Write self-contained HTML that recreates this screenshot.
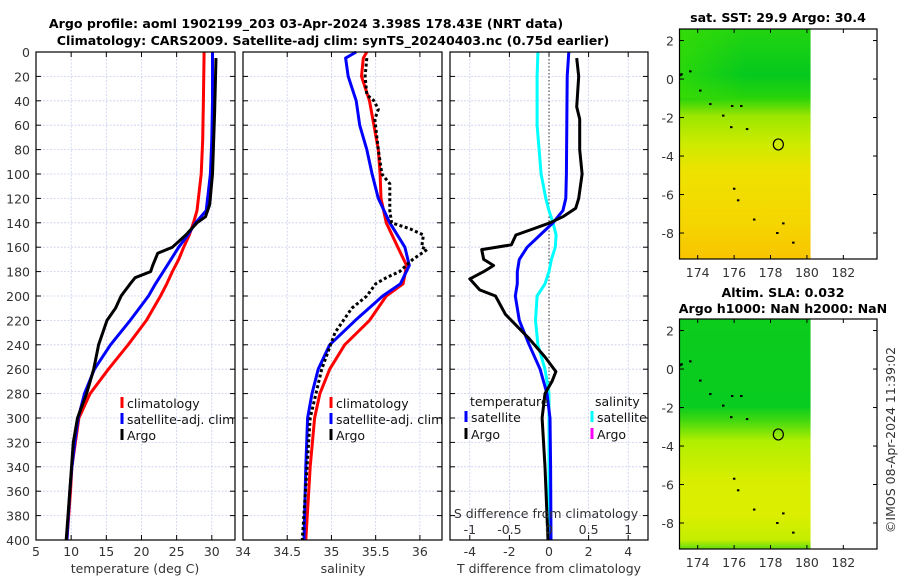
<!DOCTYPE html>
<html><head><meta charset="utf-8">
<style>
body{margin:0;background:#fff;}
svg{display:block;font-family:"DejaVu Sans","Liberation Sans",sans-serif;}
.tk{font-size:12.5px;fill:#333;}
.tt{font-size:12.6px;font-weight:bold;fill:#000;}
.lg{font-size:12.5px;fill:#111;}
</style></head>
<body>
<svg id="fig" width="900" height="580" viewBox="0 0 900 580" xmlns="http://www.w3.org/2000/svg">
<defs>
<linearGradient id="g1" x1="0" y1="0" x2="0" y2="1">
<stop offset="0" stop-color="#22d410"/><stop offset="0.2" stop-color="#05c91e"/>
<stop offset="0.3" stop-color="#28d40a"/><stop offset="0.38" stop-color="#9de600"/>
<stop offset="0.5" stop-color="#cdeb00"/><stop offset="0.62" stop-color="#eee200"/>
<stop offset="0.85" stop-color="#f5d500"/><stop offset="1" stop-color="#f8c400"/>
</linearGradient>
<linearGradient id="g1h" x1="0" y1="0" x2="1" y2="0">
<stop offset="0" stop-color="#40e000" stop-opacity="0.6"/><stop offset="0.5" stop-color="#40e000" stop-opacity="0"/>
</linearGradient>
<linearGradient id="g2" x1="0" y1="0" x2="0" y2="1">
<stop offset="0" stop-color="#0ccc1c"/><stop offset="0.38" stop-color="#08cc20"/>
<stop offset="0.44" stop-color="#40d810"/><stop offset="0.53" stop-color="#b0ee00"/>
<stop offset="0.7" stop-color="#d8ee00"/><stop offset="0.85" stop-color="#dcee00"/>
<stop offset="0.96" stop-color="#c4ee00"/><stop offset="1" stop-color="#60dc10"/>
</linearGradient>
</defs>
<g id="content"></g>
</svg>
<script>
// ---- data ----
const depthsTclim=[0,40,72,100,130,140,150,160,170,180,190,200,220,240,260,280,300,320,340,360,400];
const tempClim=[28.9,28.8,28.7,28.5,27.9,27.4,26.8,26.0,25.3,24.4,23.6,22.7,20.7,18.1,15.3,12.7,11.1,10.6,10.1,9.9,9.4];
const tempSat=[30.1,30.1,30.0,29.8,29.2,27.7,26.6,25.3,24.2,23.1,22.0,21.0,18.4,15.6,13.3,11.9,11.0,10.5,10.1,9.8,9.4];
const depthsArgo=[5,50,100,125,135,140,145,150,160,165,175,180,185,190,200,210,220,240,260,280,300,320,360,400];
const tempArgo=[30.6,30.4,30.1,29.7,29.1,27.9,27.1,26.3,24.4,22.3,21.6,21.3,19.1,18.4,17.1,16.3,15.1,13.9,13.2,12.2,10.9,10.3,9.8,9.3];
const depthsS=[0,5,20,40,60,80,100,120,140,160,175,190,200,220,240,260,280,300,340,400];
const salClim=[35.40,35.36,35.34,35.43,35.48,35.53,35.55,35.56,35.62,35.75,35.85,35.81,35.62,35.43,35.15,34.98,34.87,34.81,34.76,34.71];
const salSat=[35.28,35.16,35.19,35.28,35.32,35.40,35.46,35.53,35.66,35.83,35.88,35.78,35.58,35.27,34.98,34.85,34.78,34.73,34.71,34.69];
const depthsSA=[5,20,35,40,47,55,80,100,108,130,140,145,150,160,162,170,180,185,190,200,210,230,260,300,400];
const salArgo=[35.40,35.38,35.40,35.48,35.53,35.49,35.53,35.57,35.66,35.66,35.68,35.89,36.04,36.02,36.08,35.92,35.77,35.62,35.50,35.40,35.23,35.04,34.89,34.76,34.67];
const depthsD=[0,20,60,100,120,130,140,150,160,170,180,190,200,220,240,260,280,300,340,400];
const dTsat=[1.0,0.92,0.9,0.88,0.85,0.7,0.2,-0.45,-1.1,-1.5,-1.6,-1.6,-1.7,-1.5,-1.0,-0.45,-0.1,0.05,0.08,0.1];
const dSsat=[-0.14,-0.15,-0.15,-0.10,-0.04,0.0,0.05,0.09,0.08,0.03,0.0,-0.05,-0.15,-0.17,-0.14,-0.05,0.0,0.0,0.0,0.0];
const depthsDA=[5,20,45,55,80,100,120,128,135,140,145,150,158,162,170,175,180,186,195,200,215,235,250,262,270,280,300,340,400];
const dTargo=[1.4,1.5,1.4,1.55,1.55,1.67,1.5,1.35,0.7,0.05,-0.8,-1.67,-1.9,-3.4,-3.3,-2.8,-3.3,-4.0,-3.5,-2.7,-2.2,-1.0,-0.2,0.35,0.15,-0.2,-0.35,-0.2,-0.05];
const tempTicks=[5,10,15,20,25,30];
const salTicks=[34,34.5,35,35.5,36];
const salTickLabels=["34","34.5","35","35.5","36"];
const dTTicks=[-4,-2,0,2,4];
const dSTicks=[-1,-0.5,0,0.5,1];
const dSTickLabels=["-1","-0.5","0","0.5","1"];
const depthTicks=[0,20,40,60,80,100,120,140,160,180,200,220,240,260,280,300,320,340,360,380,400];
const lonTicks=[174,176,178,180,182];
const latTicks=[2,0,-2,-4,-6,-8];
const argoLon=178.43, argoLat=-3.398;
const islandLon=[173.03,173.1,173.58,174.13,174.68,175.39,175.88,176.38,175.83,176.7,175.99,176.21,177.09,178.69,178.36,179.24];
const islandLat=[0.2,0.25,0.4,-0.6,-1.3,-1.9,-1.4,-1.4,-2.5,-2.6,-5.7,-6.3,-7.3,-7.5,-8.0,-8.5];

const NS='http://www.w3.org/2000/svg';
const root=document.getElementById('content');
function mk(tag,attrs,parent){const e=document.createElementNS(NS,tag);for(const k in attrs)e.setAttribute(k,attrs[k]);(parent||root).appendChild(e);return e;}
function txt(x,y,s,cls,anchor,parent){const t=mk('text',{x:x,y:y,class:cls,'text-anchor':anchor||'middle'},parent);t.textContent=s;return t;}

const Y0=52,Y1=540;
const yD=d=>Y0+(d/400)*(Y1-Y0);
function lin(d0,d1,p0,p1){return v=>p0+(v-d0)/(d1-d0)*(p1-p0);}
const panels=[
 {name:'temperature-panel',x0:36,x1:235,sx:lin(5,33.3,36,235)},
 {name:'salinity-panel',x0:243,x1:442,sx:lin(34,36.25,243,442)},
 {name:'difference-panel',x0:450,x1:648,sx:lin(-5,5,450,648)}
];
const sxS=lin(-1.25,1.25,450,648);

function grid(p,ticks){
 const g=mk('g',{});
 
 
 depthTicks.forEach(d=>mk('line',{x1:p.x0,x2:p.x1,y1:yD(d),y2:yD(d),stroke:'#c9cfee','stroke-width':0.8,'stroke-dasharray':'2,1.5'},g));
 ticks.forEach(v=>{const x=p.sx(v);mk('line',{x1:x,x2:x,y1:Y0,y2:Y1,stroke:'#c9cfee','stroke-width':0.8,'stroke-dasharray':'2,1.5'},g);
   mk('line',{x1:x,x2:x,y1:Y1,y2:Y1-5,stroke:'#000'},g);mk('line',{x1:x,x2:x,y1:Y0,y2:Y0+5,stroke:'#000'},g);});
 depthTicks.forEach(d=>{mk('line',{x1:p.x0,x2:p.x0+5,y1:yD(d),y2:yD(d),stroke:'#000'},g);mk('line',{x1:p.x1,x2:p.x1-5,y1:yD(d),y2:yD(d),stroke:'#000'},g);});
}
function frame(p){const r=mk('rect',{x:p.x0,y:Y0,width:p.x1-p.x0,height:Y1-Y0,fill:'none',stroke:'#000','stroke-width':1.2});
 
 }
function line(depths,vals,sx,color,name,opts){
 const pts=depths.map((d,i)=>sx(vals[i]).toFixed(1)+','+yD(d).toFixed(1)).join(' ');
 const a={points:pts,fill:'none',stroke:color,'stroke-width':(opts&&opts.w)||3,'stroke-linejoin':'round'};
 if(opts&&opts.dash)a['stroke-dasharray']=opts.dash;
 const e=mk('polyline',a);
 
 
}
grid(panels[0],tempTicks);
line(depthsTclim,tempClim,panels[0].sx,'#f00','temp-climatology-line');
line(depthsTclim,tempSat,panels[0].sx,'#00f','temp-satellite-line');
line(depthsArgo,tempArgo,panels[0].sx,'#000','temp-argo-line');
grid(panels[1],salTicks);
line(depthsS,salClim,panels[1].sx,'#f00','sal-climatology-line');
line(depthsS,salSat,panels[1].sx,'#00f','sal-satellite-line');
line(depthsSA,salArgo,panels[1].sx,'#000','sal-argo-line',{dash:'3,2.5',w:3});
grid(panels[2],dTTicks);
mk('line',{x1:panels[2].sx(0),x2:panels[2].sx(0),y1:Y0,y2:Y1,stroke:'#333','stroke-dasharray':'1.5,2','stroke-width':1});
line(depthsD,dSsat,sxS,'#00ffff','sdiff-satellite-line');
line(depthsD,dTsat,panels[2].sx,'#00f','tdiff-satellite-line');
line(depthsDA,dTargo,panels[2].sx,'#000','tdiff-argo-line');
panels.forEach(frame);

depthTicks.forEach(d=>txt(30,yD(d)+5,String(d),'tk','end'));
tempTicks.forEach(v=>txt(panels[0].sx(v),556,String(v),'tk'));
salTicks.forEach((v,i)=>txt(panels[1].sx(v),556,salTickLabels[i],'tk'));
dTTicks.forEach(v=>txt(panels[2].sx(v),556,String(v),'tk'));
dSTicks.forEach((v,i)=>txt(sxS(v),534,dSTickLabels[i],'tk'));
txt(135,573,'temperature (deg C)','tk');
txt(343,573,'salinity','tk');
txt(549,573,'T difference from climatology','tk');
txt(546,518,'S difference from climatology','tk');
txt(306,28,'Argo profile: aoml 1902199_203 03-Apr-2024 3.398S 178.43E (NRT data)','tt');
txt(333,45,'Climatology: CARS2009. Satellite-adj clim: synTS_20240403.nc (0.75d earlier)','tt');

function leg(x,y,color,label){if(color)mk('line',{x1:x,x2:x,y1:y-11,y2:y,stroke:color,'stroke-width':3});txt(x+5,y,label,'lg','start');}
leg(122,408,'#f00','climatology');leg(122,424,'#00f','satellite-adj. clim');leg(122,440,'#000','Argo');
leg(331,408,'#f00','climatology');leg(331,424,'#00f','satellite-adj. clim');leg(331,440,'#000','Argo');
txt(470,406,'temperature','lg','start');leg(466,422,'#00f','satellite');leg(466,439,'#000','Argo');
txt(595,406,'salinity','lg','start');leg(592,422,'#00ffff','satellite');leg(592,439,'#ff00ff','Argo');

function map(top,bot,grad,title1,title2,name,hgrad){
 const lx=lin(173,183.85,679.5,877), ly=lin(2.6,-9.35,top,bot);
 const g=mk('g',{});
 
 
 const w=lx(180.2)-679.5;
 mk('rect',{x:679.5,y:top,width:w,height:bot-top,fill:'url(#'+grad+')'},g);
 if(hgrad)mk('rect',{x:679.5,y:top,width:w,height:(bot-top)*0.3,fill:'url(#'+hgrad+')'},g);
 mk('rect',{x:679.5,y:top,width:877-679.5,height:bot-top,fill:'none',stroke:'#000','stroke-width':1.2},g);
 lonTicks.forEach(v=>{const x=lx(v);mk('line',{x1:x,x2:x,y1:bot,y2:bot-4,stroke:'#000'},g);mk('line',{x1:x,x2:x,y1:top,y2:top+4,stroke:'#000'},g);txt(x,bot+18,String(v),'tk','middle',g);});
 latTicks.forEach(v=>{const y=ly(v);mk('line',{x1:679.5,x2:684,y1:y,y2:y,stroke:'#000'},g);mk('line',{x1:877,x2:873,y1:y,y2:y,stroke:'#000'},g);txt(674,y+5,String(v),'tk','end',g);});
 islandLon.forEach((lo,i)=>mk('rect',{x:lx(lo)-1,y:ly(islandLat[i])-1,width:2.5,height:2,fill:'#000'},g));
 const c=mk('ellipse',{cx:lx(argoLon),cy:ly(argoLat),rx:5,ry:5.5,fill:'none',stroke:'#000','stroke-width':1.2},g);
 
 
 if(title2){txt(783,top-22,title1,'tt','middle',g);txt(783,top-6,title2,'tt','middle',g);} else txt(778,top-7,title1,'tt','middle',g);
}
map(29,259,'g1','sat. SST: 29.9 Argo: 30.4',null,'sst-map','g1h');
map(319,549,'g2','Altim. SLA: 0.032','Argo h1000: NaN h2000: NaN','sla-map',null);
const cr=txt(0,0,'©IMOS 08-Apr-2024 11:39:02','tk');
cr.setAttribute('transform','translate(895,440) rotate(-90)');


</script>
</body></html>
